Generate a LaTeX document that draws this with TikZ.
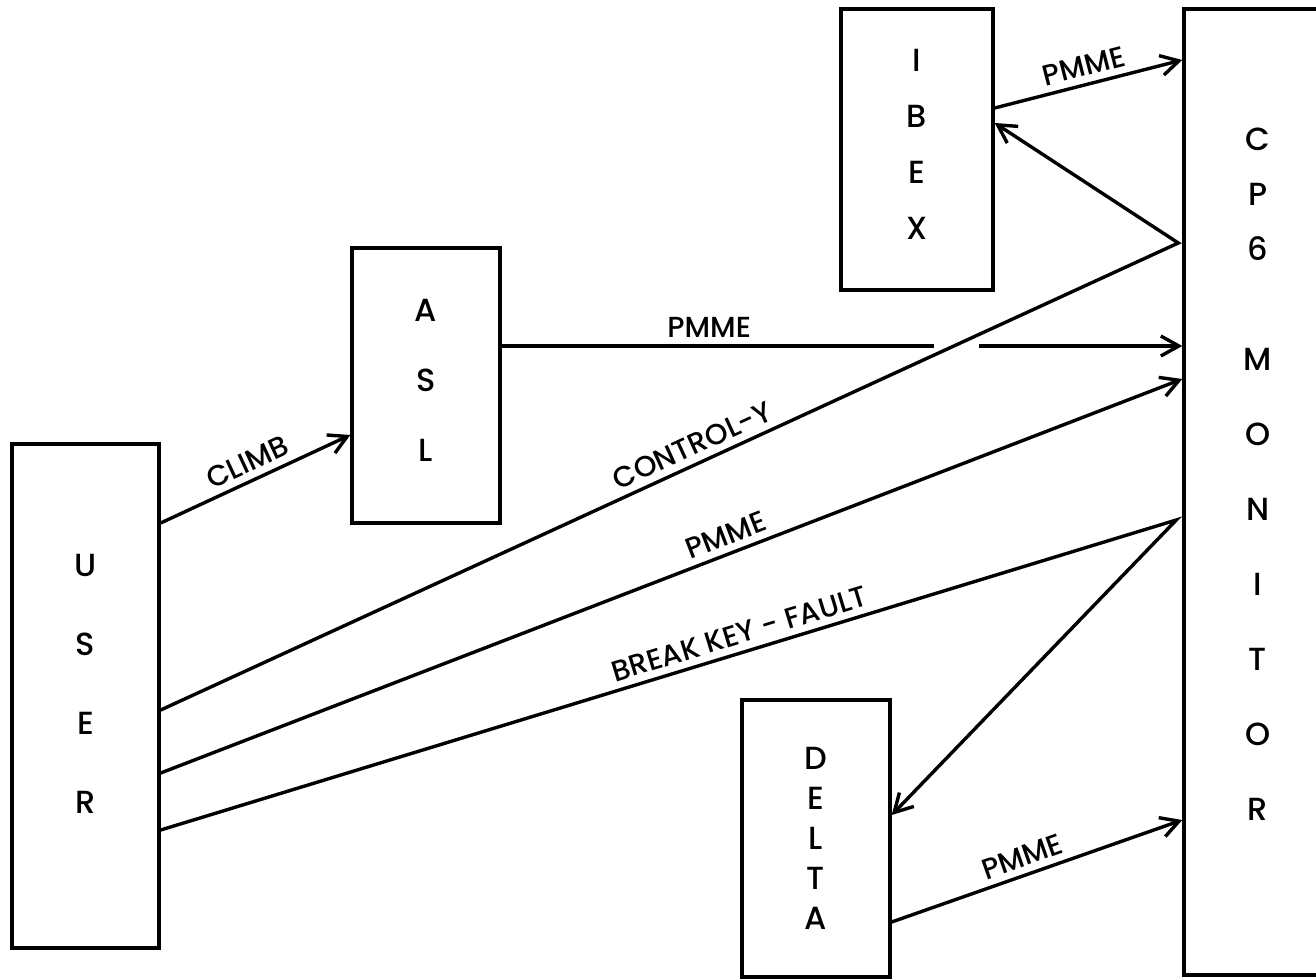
\documentclass[tikz,border=0pt]{standalone}
\usepackage{fontspec}
\setmainfont{Poppins}[UprightFont=* Medium]
\usetikzlibrary{arrows.meta,calc}

\begin{document}
\begin{tikzpicture}[
        x=0.5pt, y=0.5pt,
        ->, >={Straight Barb[length=9pt,width=10pt]}, line width=1.7pt,
        unit/.style={draw, align=center, inner sep=0pt},
        every node/.style={font=\fontsize{14.5}{17}\selectfont}
    ]
    \useasboundingbox (0,0) rectangle (1316,979);

    \node[unit, minimum width=73.5pt, minimum height=252pt, text depth=12pt, font=\fontsize{16}{39.5}\selectfont] (user) at (85.5,283) {U\\S\\E\\R};
    \node[unit, minimum width=74pt, minimum height=137.5pt, text depth=5pt, font=\fontsize{16}{35}\selectfont] (asl) at (426,593.5) {A\\S\\L};
    \node[unit, minimum width=76pt, minimum height=140.5pt, text depth=5pt, font=\fontsize{16}{28}\selectfont] (ibex) at (917,829.5) {I\\B\\E\\X};
    \node[unit, minimum width=74pt, minimum height=138.5pt, font=\fontsize{16}{20}\selectfont] (delta) at (816,140.5) {D\\E\\L\\T\\A};
    \node[unit, minimum width=74pt, minimum height=483pt, text depth=18pt, font=\fontsize{16}{37.5}\selectfont] (cp6) at (1258,487) {C\\[-10pt]P\\[-10pt]6\\[17.5pt]M\\O\\N\\I\\T\\O\\R};

    \coordinate (hop1) at (934,633);
    \coordinate (hop2) at (979,633);

    \draw ($(user.east)+(0,173)$) -- node[above, sloped] {CLIMB} ($(asl.west)+(0,-49.5)$);
    \draw[-] ($(asl.east)+(0,39.5)$) -- node[above, pos=0.48] {PMME} (hop1);
    \draw (hop2) -- ($(cp6.west)+(0,146)$);
    \draw ($(user.east)+(0,-14)$) -- node[above, sloped, pos=0.53] {CONTROL-Y} ($(cp6.west)+(-4,249)$) -- ($(ibex.east)+(0,26.5)$);
    \draw ($(user.east)+(0,-77)$) -- node[above, sloped, pos=0.56] {PMME} ($(cp6.west)+(0,113)$);
    \draw ($(user.east)+(0,-134)$) -- node[above, sloped, pos=0.575] {BREAK KEY - FAULT} ($(cp6.west)+(-6,-28)$) -- ($(delta.east)+(0,23.5)$);
    \draw ($(ibex.east)+(0,41.5)$) -- node[above, sloped] {PMME} ($(cp6.west)+(0,432)$);
    \draw ($(delta.east)+(0,-83.5)$) -- node[above, sloped, pos=0.47] {PMME} ($(cp6.west)+(0,-328)$);
\end{tikzpicture}
\end{document}
